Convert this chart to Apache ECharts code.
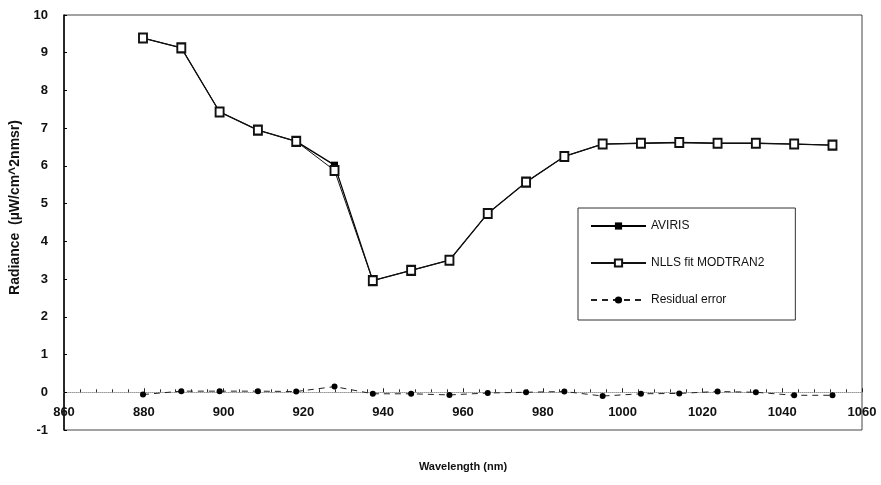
<!DOCTYPE html>
<html>
<head>
<meta charset="utf-8">
<script src="https://cdn.jsdelivr.net/npm/echarts@6/dist/echarts.min.js"></script>
<style>html,body{margin:0;padding:0;background:#fff}#c{width:881px;height:485px}</style>
</head>
<body>
<div id="c"></div>
<script>
const wavelengths = [879.8, 889.4, 899.0, 908.6, 918.2, 927.8, 937.4, 947.0, 956.6, 966.2, 975.8, 985.4, 995.0, 1004.6, 1014.2, 1023.8, 1033.4, 1043.0, 1052.6];
const aviris = [9.39, 9.13, 7.43, 6.95, 6.65, 6.02, 2.96, 3.23, 3.50, 4.74, 5.57, 6.25, 6.58, 6.60, 6.62, 6.60, 6.60, 6.58, 6.55];
const nllsFit = [9.39, 9.13, 7.43, 6.95, 6.65, 5.88, 2.96, 3.23, 3.50, 4.74, 5.57, 6.25, 6.58, 6.60, 6.62, 6.60, 6.60, 6.58, 6.55];
const residual = [-0.06, 0.03, 0.03, 0.03, 0.02, 0.15, -0.04, -0.04, -0.07, -0.02, 0.00, 0.02, -0.10, -0.04, -0.03, 0.02, 0.00, -0.08, -0.08];
const seriesNames = ['AVIRIS', 'NLLS fit MODTRAN2', 'Residual error'];

const pair = (ys) => wavelengths.map((x, i) => [x, ys[i]]);
const FONT = '"Liberation Sans", Arial, sans-serif';

const chart = echarts.init(document.getElementById('c'), null, {renderer: 'canvas'});
chart.setOption({
  backgroundColor: '#fff',
  animation: false,
  grid: {left: 64, right: 19, top: 15, bottom: 55, show: true, borderColor: '#444', borderWidth: 1,
         containLabel: false, outerBoundsMode: 'none'},
  xAxis: {
    type: 'value', min: 860, max: 1060, interval: 20,
    axisLine: {onZero: true, lineStyle: {color: '#999', type: 'dotted', width: 1}},
    axisTick: {inside: true, length: 4, lineStyle: {color: '#222'}},
    minorTick: {show: true, splitNumber: 5, length: 3, lineStyle: {color: '#333'}},
    splitLine: {show: false},
    axisLabel: {color: '#111', fontFamily: FONT, fontWeight: 'bold', fontSize: 13, margin: -24,
                formatter: (v) => String(v)},
    name: 'Wavelength (nm)', nameLocation: 'middle', nameGap: 31,
    nameTextStyle: {color: '#111', fontFamily: FONT, fontWeight: 'bold', fontSize: 11}
  },
  yAxis: {
    type: 'value', min: -1, max: 10, interval: 1,
    axisLine: {show: true, onZero: false, lineStyle: {color: '#000', width: 1.5}},
    axisTick: {show: true, inside: true, length: 3, lineStyle: {color: '#000'}},
    splitLine: {show: false},
    axisLabel: {color: '#111', fontFamily: FONT, fontWeight: 'bold', fontSize: 13, margin: 16,
                formatter: (v) => String(v)},
    name: 'Radiance  (µW/cm^2nmsr)', nameLocation: 'middle', nameGap: 38, nameRotate: 90,
    nameTextStyle: {color: '#111', fontFamily: FONT, fontWeight: 'bold', fontSize: 14, padding: [0, 0, 0, 30]}
  },
  legend: {
    orient: 'vertical', left: 578, top: 208,
    padding: [12, 31, 14, 12], itemGap: 25, itemWidth: 55, itemHeight: 9,
    borderColor: '#333', borderWidth: 1, backgroundColor: '#fff',
    textStyle: {color: '#111', fontFamily: FONT, fontSize: 12},
    data: seriesNames
  },
  series: [
    {
      name: seriesNames[0], type: 'line', data: pair(aviris),
      symbol: 'rect', symbolSize: 7,
      lineStyle: {color: '#000', width: 1.3},
      itemStyle: {color: '#000'}, z: 2
    },
    {
      name: seriesNames[1], type: 'line', data: pair(nllsFit),
      symbol: 'emptyRect', symbolSize: [8, 9],
      lineStyle: {color: '#111', width: 1},
      itemStyle: {color: '#111', borderWidth: 1.2}, z: 3
    },
    {
      name: seriesNames[2], type: 'line', data: pair(residual),
      symbol: 'circle', symbolSize: 6,
      lineStyle: {color: '#222', width: 1, type: [6, 5]},
      itemStyle: {color: '#000'}, z: 4
    }
  ]
});
</script>
</body>
</html>
